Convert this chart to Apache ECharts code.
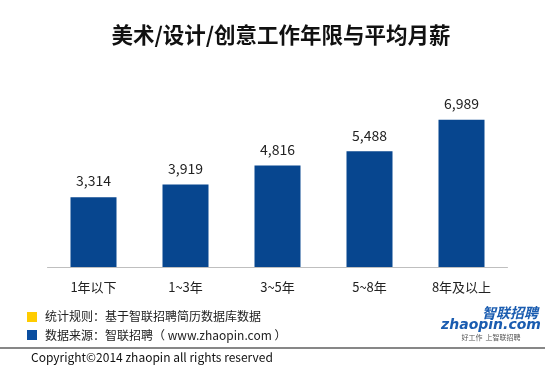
<!DOCTYPE html>
<html><head><meta charset="utf-8">
<script src="https://cdn.jsdelivr.net/npm/echarts@6/dist/echarts.min.js"></script>
<style>html,body{margin:0;padding:0;background:#fff}#c{width:550px;height:375px}</style>
</head><body><div id="c"></div>
<script>
const titleText = '美术/设计/创意工作年限与平均月薪';
const categories = ['1年以下', '1~3年', '3~5年', '5~8年', '8年及以上'];
const salaries = [3314, 3919, 4816, 5488, 6989];
const noteRule = '统计规则：基于智联招聘简历数据库数据';
const noteSource = '数据来源：智联招聘（ www.zhaopin.com ）';
const copyright = 'Copyright©2014 zhaopin all rights reserved';

const FONT = '"Noto Sans CJK SC", "Noto Sans", sans-serif';
const chart = echarts.init(document.getElementById('c'), null, {renderer: 'canvas'});
chart.setOption({
  backgroundColor: '#fff',
  animation: false,
  title: {
    text: titleText, left: 276, textAlign: 'center', top: 19,
    textStyle: {fontSize: 21.5, fontWeight: 'bold', color: '#111', fontFamily: FONT}
  },
  grid: {left: 47.5, right: 42.5, top: 98.4, bottom: 108},
  xAxis: {
    type: 'category', data: categories,
    axisLine: {lineStyle: {color: '#bfbfbf', width: 1}},
    axisTick: {show: false},
    axisLabel: {color: '#222', fontSize: 13, fontFamily: FONT, margin: 14}
  },
  yAxis: {type: 'value', min: 0, max: 8000, show: false, splitLine: {show: false}},
  series: [{
    type: 'bar', data: salaries, barWidth: 46,
    itemStyle: {color: '#07468f'},
    label: {
      show: true, position: 'top', distance: 9, color: '#222', fontSize: 14, fontFamily: FONT,
      formatter: p => p.value.toLocaleString('en-US')
    }
  }],
  graphic: [
    {type: 'rect', shape: {x: 27, y: 312, width: 10, height: 10}, style: {fill: '#ffcc00'}},
    {type: 'text', x: 45, y: 316, style: {text: noteRule, fill: '#222', font: '12px ' + FONT, textVerticalAlign: 'middle'}},
    {type: 'rect', shape: {x: 27, y: 330, width: 10, height: 10}, style: {fill: '#0a4ea0'}},
    {type: 'text', x: 45, y: 335, style: {text: noteSource, fill: '#222', font: '12px ' + FONT, textVerticalAlign: 'middle'}},
    {type: 'line', shape: {x1: 0, y1: 348, x2: 545, y2: 348}, style: {stroke: '#111', lineWidth: 1.2}},
    {type: 'text', x: 31, y: 357, style: {text: copyright, fill: '#111', font: '12px ' + FONT, textVerticalAlign: 'middle'}},
    {type: 'text', x: 510, y: 313, style: {text: '智联招聘', fill: '#1a5cb0', font: 'italic bold 14px ' + FONT, textAlign: 'center', textVerticalAlign: 'middle'}},
    {type: 'text', x: 491, y: 325, style: {text: 'zhaopin.com', fill: '#1a5cb0', font: 'italic bold 14px "DejaVu Sans", sans-serif', textAlign: 'center', textVerticalAlign: 'middle'}},
    {type: 'text', x: 491, y: 337, style: {text: '好工作  上智联招聘', fill: '#555', font: '7px ' + FONT, textAlign: 'center', textVerticalAlign: 'middle'}}
  ]
});
</script></body></html>
